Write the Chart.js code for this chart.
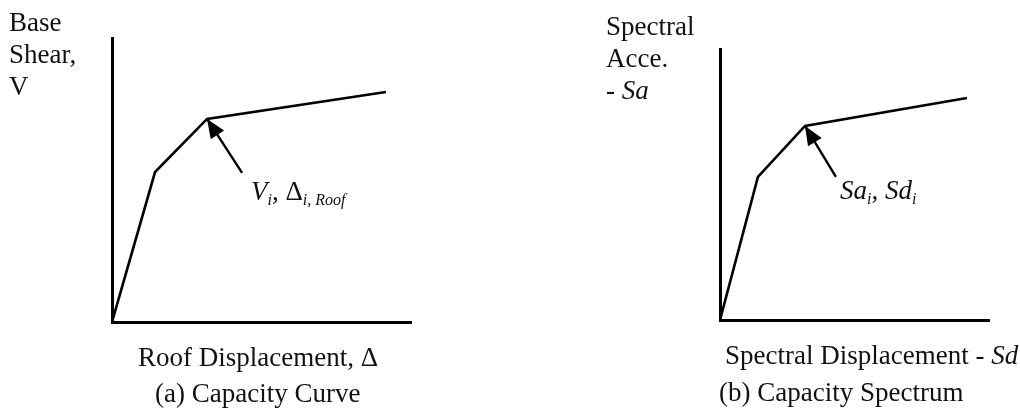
<!DOCTYPE html>
<html>
<head>
<meta charset="utf-8">
<script src="https://cdn.jsdelivr.net/npm/chart.js@4/dist/chart.umd.min.js"></script>
<style>
  body { margin: 0; background: #fff; }
  #wrap { position: relative; width: 1020px; height: 412px; overflow: hidden; }
  canvas { position: absolute; top: 0; }
  .lbl { position: absolute; font-family: "Liberation Serif", "DejaVu Serif", serif; font-size: 27px; line-height: 27px; color: #111; white-space: nowrap; }
  .lbl.multi { line-height: 32px; }
  .lbl i { font-style: italic; }
  .lbl sub { font-size: 16px; vertical-align: baseline; position: relative; top: 5px; }
</style>
</head>
<body>
<div id="wrap">
  <canvas id="capCurve" width="510" height="412" style="left:0"></canvas>
  <canvas id="capSpec" width="510" height="412" style="left:510px"></canvas>

  <div class="lbl multi" style="left:9px; top:6px">Base<br>Shear,<br>V</div>
  <div class="lbl" style="left:251px; top:178px"><i>V<sub>i</sub></i>, Δ<sub><i>i, Roof</i></sub></div>
  <div class="lbl" style="left:138px; top:344px">Roof Displacement, Δ</div>
  <div class="lbl" style="left:155px; top:380px">(a) Capacity Curve</div>

  <div class="lbl multi" style="left:606px; top:10px">Spectral<br>Acce.<br>- <i>Sa</i></div>
  <div class="lbl" style="left:840px; top:177px"><i>Sa<sub>i</sub></i>, <i>Sd<sub>i</sub></i></div>
  <div class="lbl" style="left:725px; top:342px">Spectral Displacement - <i>Sd</i></div>
  <div class="lbl" style="left:719px; top:379px">(b) Capacity Spectrum</div>
</div>

<script>
// pushover curve: base shear vs roof displacement (arbitrary units 0-10)
const roofDisp = [0, 1.44, 3.18, 9.16];
const baseShear = [0, 5.28, 7.15, 8.10];
const arrowA_x = [4.35, 3.18];
const arrowA_y = [5.25, 7.15];

// capacity spectrum: Sa vs Sd
const specDisp = [0, 1.41, 3.16, 9.18];
const specAcc = [0, 5.28, 7.16, 8.19];
const arrowB_x = [4.31, 3.16];
const arrowB_y = [5.28, 7.16];

// draws a filled head at the last point of the dataset flagged "arrow"
const arrowHead = {
  id: 'arrowHead',
  afterDatasetsDraw(chart) {
    const ctx = chart.ctx;
    chart.data.datasets.forEach((ds, i) => {
      if (!ds.arrow) return;
      const pts = chart.getDatasetMeta(i).data;
      const a = pts[0], b = pts[pts.length - 1];
      const ang = Math.atan2(b.y - a.y, b.x - a.x);
      const len = 19, half = 8;
      ctx.save();
      ctx.fillStyle = '#000';
      ctx.beginPath();
      ctx.moveTo(b.x, b.y);
      ctx.lineTo(b.x - len * Math.cos(ang) + half * Math.sin(ang), b.y - len * Math.sin(ang) - half * Math.cos(ang));
      ctx.lineTo(b.x - len * Math.cos(ang) - half * Math.sin(ang), b.y - len * Math.sin(ang) + half * Math.cos(ang));
      ctx.closePath();
      ctx.fill();
      ctx.restore();
    });
  }
};

function toXY(xs, ys) {
  return xs.map((x, i) => ({ x: x, y: ys[i] }));
}

function makeChart(id, xs, ys, ax, ay, pad) {
  return new Chart(document.getElementById(id), {
    type: 'line',
    data: {
      datasets: [
        { data: toXY(xs, ys), borderColor: '#000', borderWidth: 2.6, pointRadius: 0, tension: 0, fill: false },
        { data: toXY(ax, ay), borderColor: '#000', borderWidth: 2.4, pointRadius: 0, tension: 0, fill: false, arrow: true }
      ]
    },
    options: {
      responsive: false,
      animation: false,
      events: [],
      layout: { padding: pad },
      plugins: { legend: { display: false }, tooltip: { enabled: false } },
      scales: {
        x: {
          type: 'linear', min: 0, max: 10,
          grid: { display: false },
          border: { display: true, color: '#000', width: 3 },
          ticks: { display: false }
        },
        y: {
          type: 'linear', min: 0, max: 10,
          grid: { display: false },
          border: { display: true, color: '#000', width: 3 },
          ticks: { display: false }
        }
      }
    },
    plugins: [arrowHead]
  });
}

makeChart('capCurve', roofDisp, baseShear, arrowA_x, arrowA_y, { left: 104, right: 99, top: 38, bottom: 82 });
makeChart('capSpec', specDisp, specAcc, arrowB_x, arrowB_y, { left: 202, right: 31, top: 49, bottom: 84 });
</script>
</body>
</html>
